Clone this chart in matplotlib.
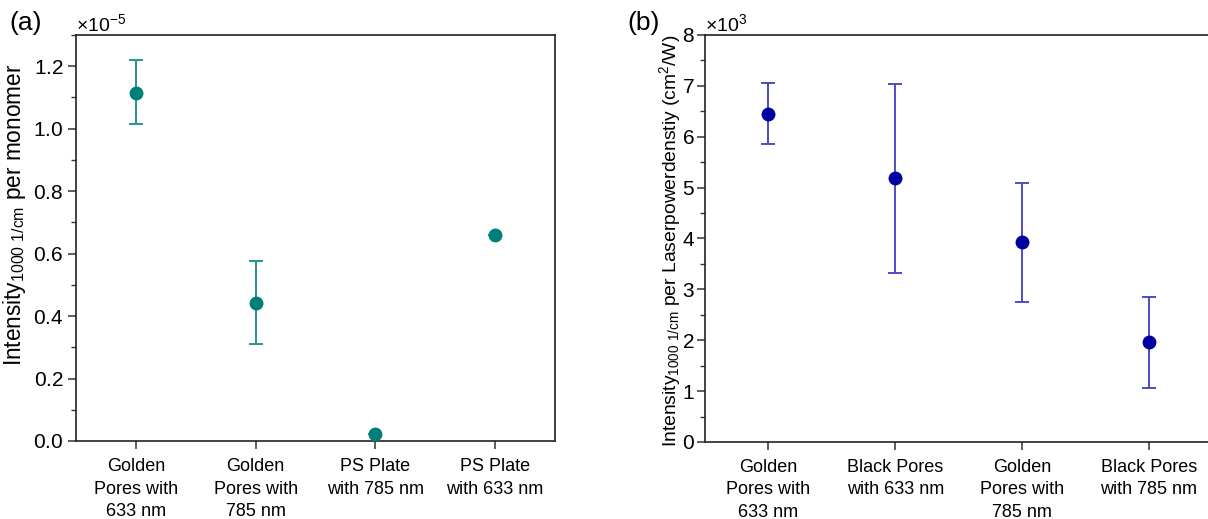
import matplotlib
matplotlib.use('Agg')
import matplotlib.pyplot as plt
from matplotlib.ticker import ScalarFormatter, MultipleLocator

plt.rcParams['font.family'] = ['Liberation Sans', 'DejaVu Sans']
plt.rcParams['mathtext.default'] = 'regular'
plt.rcParams['font.size'] = 13

# panel (a)
labels_a = ['Golden\nPores with\n633 nm', 'Golden\nPores with\n785 nm',
            'PS Plate\nwith 785 nm', 'PS Plate\nwith 633 nm']
vals_a = [1.115e-5, 0.443e-5, 0.022e-5, 0.660e-5]
lo_a = [1.015e-5, 0.310e-5, 0.022e-5, 0.660e-5]
hi_a = [1.220e-5, 0.575e-5, 0.022e-5, 0.660e-5]

# panel (b)
labels_b = ['Golden\nPores with\n633 nm', 'Black Pores\nwith 633 nm',
            'Golden\nPores with\n785 nm', 'Black Pores\nwith 785 nm']
vals_b = [6450, 5180, 3930, 1960]
lo_b = [5850, 3320, 2750, 1060]
hi_b = [7050, 7040, 5100, 2850]

fig = plt.figure(figsize=(12.08, 5.19), dpi=100)
ax1 = fig.add_axes([0.0629, 0.1503, 0.3965, 0.7823])
ax2 = fig.add_axes([0.5836, 0.1484, 0.4200, 0.7842])


def draw(ax, vals, lo, hi, labels, pcol, ecol):
    x = list(range(len(vals)))
    err = [[v - l for v, l in zip(vals, lo)], [h - v for v, h in zip(vals, hi)]]
    ax.errorbar(x, vals, yerr=err, fmt='none', ecolor=ecol, elinewidth=1.4,
                capsize=5, capthick=1.4, zorder=2)
    ax.plot(x, vals, 'o', color=pcol, markersize=9, zorder=3, clip_on=False)
    ax.set_xticks(x)
    ax.set_xticklabels(labels, linespacing=1.45, fontsize=13)
    ax.set_xlim(-0.5, 3.5)
    for s in ax.spines.values():
        s.set_linewidth(1.2)
        s.set_color('#222222')
    ax.tick_params(axis='both', which='major', direction='out', length=6,
                   width=1.1, color='#333333')
    ax.tick_params(axis='y', labelsize=15, pad=3)
    ax.tick_params(axis='y', which='minor', direction='out', length=3.5,
                   width=1.0, color='#333333')
    ax.tick_params(axis='x', pad=6)
    fmt = ScalarFormatter(useMathText=True)
    fmt.set_powerlimits((0, 0))
    ax.yaxis.set_major_formatter(fmt)
    ax.yaxis.get_offset_text().set_fontsize(14)


draw(ax1, vals_a, lo_a, hi_a, labels_a, '#007f7b', '#2a9390')
ax1.set_ylim(0, 1.3e-5)
ax1.yaxis.set_major_locator(MultipleLocator(0.2e-5))
ax1.yaxis.set_minor_locator(MultipleLocator(0.1e-5))
ax1.set_ylabel('Intensity$_{1000\\ 1/cm}$ per monomer', fontsize=16.3)
ax1.yaxis.set_label_coords(-0.1, 0.557)

draw(ax2, vals_b, lo_b, hi_b, labels_b, '#0000a0', '#4c4cc8')
ax2.tick_params(axis='y', pad=1.5)
ax2.set_ylim(0, 8000)
ax2.yaxis.set_major_locator(MultipleLocator(1000))
ax2.yaxis.set_minor_locator(MultipleLocator(500))
ax2.set_ylabel('Intensity$_{1000\\ 1/cm}$ per Laserpowerdenstiy (cm$^2$/W)',
               fontsize=13.9)
ax2.yaxis.set_label_coords(-0.043, 0.494)

fig.text(0.008, 0.955, '(a)', fontsize=19, va='center', ha='left')
fig.text(0.519, 0.955, '(b)', fontsize=19, va='center', ha='left')

fig.savefig('out.png', dpi=100)
